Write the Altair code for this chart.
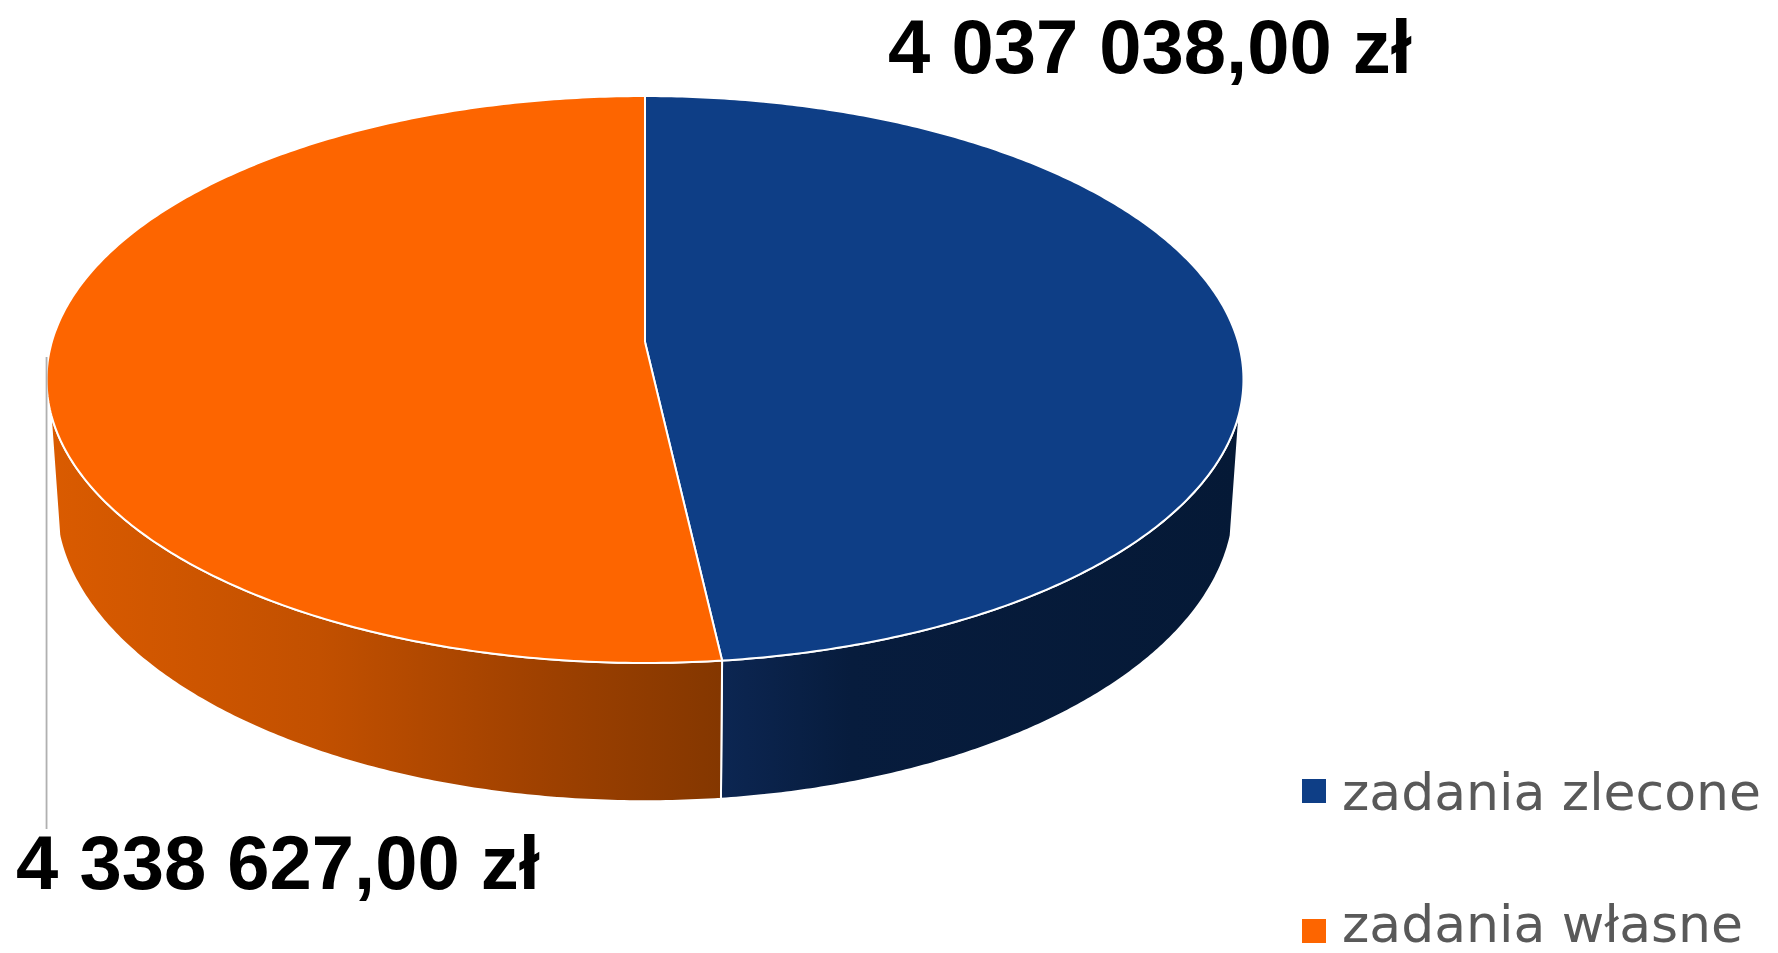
import numpy as np
import pandas as pd
import altair as alt

# ---------------- data ----------------
categories = ["zadania zlecone", "zadania własne"]
values = [4037038.00, 4338627.00]
top_colors = ["#0e3e86", "#fd6500"]
side_stops = [
    [("#0c2652", 0.0), ("#071c3d", 0.25), ("#051936", 1.0)],
    [("#da5b00", 0.0), ("#c25000", 0.4), ("#a24200", 0.7), ("#843700", 1.0)],
]


def fmt(v):
    s = f"{v:,.2f}"
    return s.replace(",", " ").replace(".", ",") + " zł"


labels = [fmt(v) for v in values]

# ---------------- canvas / projection settings (page pixels) ----------------
W, H = 1762, 935
CX, CY = 645.0, 342.0          # projected pie centre
SX, SY, K = 593.2, 278.5, 0.1323  # radii and perspective factor
DEPTH = 120.0
SHRINK = 0.985
SIDE_START, SIDE_END = 104.0, 256.0

xs = alt.Scale(domain=[8, 8 + W], nice=False, zero=False)
ys = alt.Scale(domain=[8, 8 + H], reverse=True, nice=False, zero=False)


def top_pt(theta):
    t = np.radians(theta)
    x, z = np.sin(t), -np.cos(t)
    w = 1 - K * z
    return CX + SX * x / w, CY + SY * z / w


def bot_pt(theta):
    t = np.radians(theta)
    x, z = np.sin(t), -np.cos(t)
    w = 1 - K * z
    return CX + SHRINK * SX * x / w, CY + (SY * z + DEPTH) / w


total = sum(values)
bounds = np.concatenate([[0.0], np.cumsum(values) / total * 360.0])


def poly_df(xs_, ys_):
    xs_ = list(xs_) + [xs_[0]]
    ys_ = list(ys_) + [ys_[0]]
    return pd.DataFrame({"x": xs_, "y": ys_, "i": range(len(xs_))})


def poly_layer(df, fill):
    return alt.Chart(df).mark_line(
        fill=fill, stroke="white", strokeWidth=2, strokeJoin="round"
    ).encode(
        x=alt.X("x:Q", scale=xs, axis=None),
        y=alt.Y("y:Q", scale=ys, axis=None),
        order=alt.Order("i:Q"),
    )


layers = []
# side walls
for k in range(len(values)):
    a0, a1 = max(bounds[k], SIDE_START), min(bounds[k + 1], SIDE_END)
    if a1 <= a0:
        continue
    th = np.linspace(a0, a1, 160)
    tx, ty = top_pt(th)
    bx, by = bot_pt(th[::-1])
    df = poly_df(np.concatenate([tx, bx]), np.concatenate([ty, by]))
    grad = alt.Gradient(
        gradient="linear",
        stops=[alt.GradientStop(color=c, offset=o) for c, o in side_stops[k]],
        x1=0, x2=1, y1=0, y2=0,
    )
    layers.append(poly_layer(df, grad))

# top faces
for k in range(len(values)):
    th = np.linspace(bounds[k], bounds[k + 1], 300)
    tx, ty = top_pt(th)
    df = poly_df(np.concatenate([[CX], tx]), np.concatenate([[CY], ty]))
    layers.append(poly_layer(df, top_colors[k]))

# leader line for the lower label
x_left = CX - SX / np.sqrt(1 - K * K)
lead = pd.DataFrame({"x": [x_left], "y": [CY + 15], "y2": [829]})
layers.append(
    alt.Chart(lead).mark_rule(color="#b0b0b0", strokeWidth=1.8).encode(
        x=alt.X("x:Q", scale=xs, axis=None),
        y=alt.Y("y:Q", scale=ys, axis=None),
        y2="y2:Q",
    )
)

# value labels
lab = pd.DataFrame({"t": labels, "x": [888, 16], "y": [73, 889]})
layers.append(
    alt.Chart(lab).mark_text(
        align="left", baseline="alphabetic", font="Liberation Sans",
        fontWeight="bold", fontSize=76, color="black"
    ).encode(
        x=alt.X("x:Q", scale=xs, axis=None),
        y=alt.Y("y:Q", scale=ys, axis=None),
        text="t:N",
    )
)

# legend
leg = pd.DataFrame({
    "cat": categories,
    "sx": [1314, 1314], "sy": [791, 931],
    "tx": [1342, 1342], "ty": [810, 942],
})
layers.append(
    alt.Chart(leg).mark_square(size=576, opacity=1, filled=True).encode(
        x=alt.X("sx:Q", scale=xs, axis=None),
        y=alt.Y("sy:Q", scale=ys, axis=None),
        color=alt.Color("cat:N", scale=alt.Scale(domain=categories, range=top_colors), legend=None),
    )
)
layers.append(
    alt.Chart(leg).mark_text(
        align="left", baseline="alphabetic", font="DejaVu Sans",
        fontSize=52, color="#595959"
    ).encode(
        x=alt.X("tx:Q", scale=xs, axis=None),
        y=alt.Y("ty:Q", scale=ys, axis=None),
        text="cat:N",
    )
)

chart = alt.layer(*layers).properties(
    width=W, height=H, padding=0,
    autosize=alt.AutoSizeParams(type="none"),
).configure_view(stroke=None)

chart.save("out.html", embed_options={"renderer": "svg", "actions": False})
